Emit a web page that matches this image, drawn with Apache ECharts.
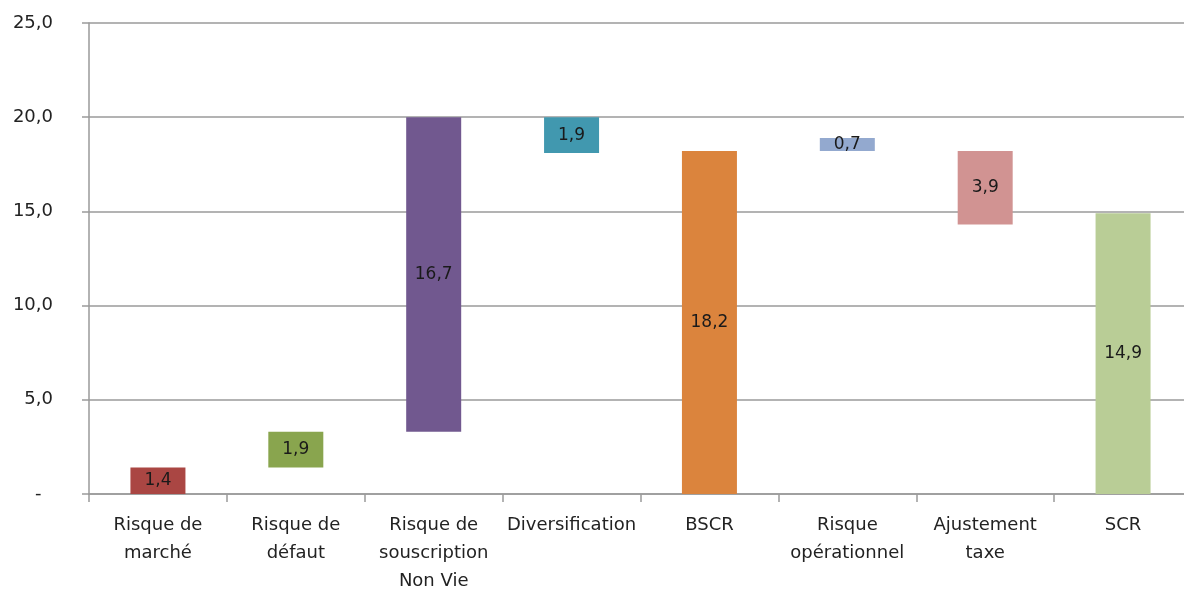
<!DOCTYPE html>
<html>
<head>
<meta charset="utf-8">
<script src="https://cdn.jsdelivr.net/npm/echarts@6/dist/echarts.min.js"></script>
<style>
html,body{margin:0;padding:0;background:#fff;}
#chart{width:1184px;height:591px;}
</style>
</head>
<body>
<div id="chart"></div>
<script>
// categories du waterfall SCR
var categories = ['Risque de\nmarché', 'Risque de\ndéfaut', 'Risque de\nsouscription\nNon Vie', 'Diversification', 'BSCR', 'Risque\nopérationnel', 'Ajustement\ntaxe', 'SCR'];
// base invisible (départ de chaque barre)
var bases = [0, 1.4, 3.3, 18.1, 0, 18.2, 14.3, 0];
// valeurs affichées
var values = [1.4, 1.9, 16.7, 1.9, 18.2, 0.7, 3.9, 14.9];
var yTicks = [0, 5, 10, 15, 20, 25];

var couleurs = ['#AA4643', '#89A54E', '#71588F', '#4198AF', '#DB843D', '#93A9CF', '#D19392', '#B9CD96'];

var chart = echarts.init(document.getElementById('chart'));

var dataBars = [];
for (var i = 0; i < values.length; i++) {
	dataBars.push({
		value : values[i],
		itemStyle : { color : couleurs[i] }
	});
}

function virgule(v) {
	return v.toFixed(1).replace('.', ',');
}

chart.setOption({
	animation : false,
	grid : {
		left : 89,
		top : 23,
		width : 1103,
		height : 471,
		outerBoundsMode : 'none',
		containLabel : false
	},
	xAxis : {
		type : 'category',
		data : categories,
		axisLine : { lineStyle : { color : '#9a9a9a', width : 1.5 } },
		axisTick : { show : true, length : 8, lineStyle : { color : '#9a9a9a', width : 1.5 } },
		axisLabel : {
			interval : 0,
			margin : 17,
			fontFamily : 'DejaVu Sans',
			fontSize : 18,
			lineHeight : 28,
			color : '#222'
		}
	},
	yAxis : {
		type : 'value',
		min : yTicks[0],
		max : yTicks[yTicks.length - 1],
		interval : 5,
		axisLine : { show : true, lineStyle : { color : '#9a9a9a', width : 1.5 } },
		axisTick : { show : true, length : 7, lineStyle : { color : '#9a9a9a', width : 1.5 } },
		splitLine : { lineStyle : { color : '#9a9a9a', width : 1.5 } },
		axisLabel : {
			margin : 36,
			fontFamily : 'DejaVu Sans',
			fontSize : 18,
			color : '#222',
			formatter : function(v) {
				if (v === 0) return '-  ';
				return virgule(v);
			}
		}
	},
	series : [ {
		type : 'bar',
		stack : 'w',
		barWidth : 55,
		silent : true,
		itemStyle : { color : 'transparent' },
		data : bases
	}, {
		type : 'bar',
		stack : 'w',
		barWidth : 55,
		data : dataBars,
		label : {
			show : true,
			position : 'inside',
			fontFamily : 'DejaVu Sans',
			fontSize : 17,
			color : '#1a1a1a',
			formatter : function(p) {
				return virgule(p.value);
			}
		}
	} ]
});
</script>
</body>
</html>
